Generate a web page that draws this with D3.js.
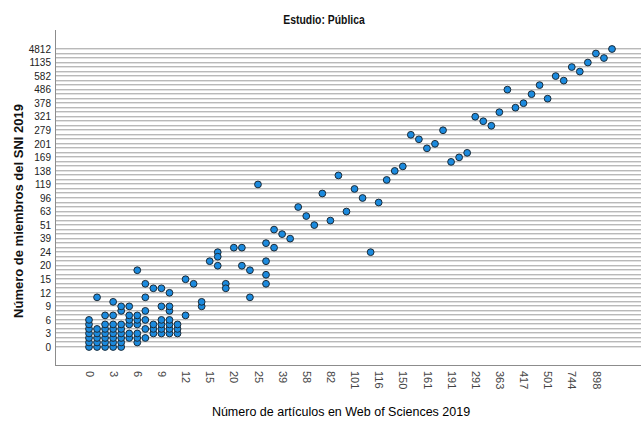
<!DOCTYPE html>
<html>
<head>
<meta charset="utf-8">
<script src="https://cdn.jsdelivr.net/npm/d3@7"></script>
<style>
  body { margin: 0; background: #fff; }
  svg { display: block; }
</style>
</head>
<body>
<svg id="chart" width="641" height="424"></svg>
<script>
"use strict";

// categorias (valores distintos) de cada eje, en orden
const articulosCats = [0, 1, 2, 3, 4, 5, 6, 7, 8, 9, 10, 11, 12, 13, 14, 15,
    17, 18, 20, 22, 23, 25, 28, 33, 39, 44, 50, 58, 66, 74, 82, 88, 95, 101,
    106, 111, 116, 127, 139, 150, 154, 158, 161, 171, 182, 191, 215, 250, 291,
    317, 340, 363, 381, 399, 417, 445, 470, 501, 567, 650, 744, 801, 850, 898,
    1010, 1262];
const miembrosCats = [0, 1, 2, 3, 4, 5, 6, 7, 8, 9, 10, 11, 12, 13, 14, 15,
    17, 19, 20, 21, 22, 24, 28, 33, 39, 44, 47, 51, 55, 59, 63, 75, 88, 96,
    103, 111, 119, 126, 132, 138, 148, 158, 169, 180, 190, 201, 226, 252, 279,
    293, 307, 321, 340, 359, 378, 414, 450, 486, 518, 550, 582, 766, 950, 1135,
    2360, 3585, 4812];

// etiquetas visibles
const articulosTicks = [0, 3, 6, 9, 12, 15, 20, 25, 39, 58, 82, 101, 116, 150,
    161, 191, 291, 363, 417, 501, 744, 898];
const miembrosTicks = [0, 3, 6, 9, 12, 15, 20, 24, 39, 51, 63, 96, 119, 138,
    169, 201, 279, 321, 378, 486, 582, 1135, 4812];

// [articulos, miembros]
const puntos = [
    [0, 0], [0, 1], [0, 2], [0, 3], [0, 4], [0, 5], [0, 6],
    [1, 0], [1, 1], [1, 2], [1, 3], [1, 4], [1, 11],
    [2, 0], [2, 1], [2, 2], [2, 3], [2, 4], [2, 5], [2, 7],
    [3, 0], [3, 1], [3, 2], [3, 3], [3, 4], [3, 5], [3, 7], [3, 10],
    [4, 0], [4, 1], [4, 2], [4, 3], [4, 4], [4, 5], [4, 8], [4, 9],
    [5, 2], [5, 3], [5, 5], [5, 6], [5, 7], [5, 9],
    [6, 1], [6, 2], [6, 3], [6, 5], [6, 6], [6, 7], [6, 19],
    [7, 2], [7, 4], [7, 6], [7, 8], [7, 11], [7, 14],
    [8, 3], [8, 4], [8, 5], [8, 13],
    [9, 3], [9, 4], [9, 5], [9, 6], [9, 9], [9, 13],
    [10, 3], [10, 4], [10, 5], [10, 6], [10, 8], [10, 9], [10, 12],
    [11, 3], [11, 4], [11, 5],
    [12, 7], [12, 15],
    [13, 14],
    [14, 9], [14, 10],
    [15, 21],
    [17, 24], [17, 22], [17, 20],
    [18, 14], [18, 13],
    [20, 28],
    [22, 28], [22, 20],
    [23, 19], [23, 11],
    [25, 119],
    [28, 33], [28, 21], [28, 17], [28, 14],
    [33, 47], [33, 28],
    [39, 44], [44, 39], [50, 75], [58, 59], [66, 51], [74, 103], [82, 55],
    [88, 132], [95, 63], [101, 111], [106, 96], [111, 24], [116, 88],
    [127, 126], [139, 138], [150, 148], [154, 252], [158, 226], [161, 190],
    [171, 201], [182, 279], [191, 158], [215, 169], [250, 180], [291, 321],
    [317, 307], [340, 293], [363, 340], [381, 486], [399, 359], [417, 378],
    [445, 450], [470, 518], [501, 414], [567, 582], [650, 550], [744, 950],
    [801, 766], [850, 1135], [898, 3585], [1010, 2360], [1262, 4812]
];

const plot = { left: 55, right: 641, top: 30, bottom: 365 };

const svg = d3.select('#chart');

const x = d3.scalePoint()
    .domain(articulosCats)
    .range([89, 612]);
const y = d3.scalePoint()
    .domain(miembrosCats)
    .range([347, 49]);

// lineas de referencia horizontales, una por categoria
const grid = svg.append('g').attr('class', 'grid');
grid.selectAll('line.g1')
    .data(miembrosCats)
    .enter()
    .append('line')
    .attr('class', 'g1')
    .attr('x1', plot.left + 1)
    .attr('x2', plot.right)
    .attr('y1', d => Math.round(y(d)) - 0.5)
    .attr('y2', d => Math.round(y(d)) - 0.5)
    .attr('stroke', '#b9b9b9');
grid.selectAll('line.g2')
    .data(miembrosCats)
    .enter()
    .append('line')
    .attr('class', 'g2')
    .attr('x1', plot.left + 1)
    .attr('x2', plot.right)
    .attr('y1', d => Math.round(y(d)) + 0.5)
    .attr('y2', d => Math.round(y(d)) + 0.5)
    .attr('stroke', '#e2e2e2');

// ejes
const yAxis = d3.axisLeft(y)
    .tickValues(miembrosTicks)
    .tickSize(0)
    .tickPadding(4);
const gy = svg.append('g')
    .attr('transform', 'translate(' + plot.left + ',0)')
    .call(yAxis);
gy.select('.domain').remove();
gy.selectAll('text')
    .attr('font-family', 'Liberation Sans, Arial, sans-serif')
    .attr('font-size', 10)
    .attr('fill', '#222');

const xAxis = d3.axisBottom(x)
    .tickValues(articulosTicks)
    .tickSize(0);
const gx = svg.append('g')
    .attr('transform', 'translate(0,' + plot.bottom + ')')
    .call(xAxis);
gx.select('.domain').remove();
gx.selectAll('text')
    .attr('font-family', 'Liberation Sans, Arial, sans-serif')
    .attr('font-size', 11)
    .attr('fill', '#444')
    .attr('text-anchor', 'start')
    .attr('dy', '0.35em')
    .attr('y', 0)
    .attr('transform', 'translate(0,6) rotate(90)');

svg.append('line')
    .attr('x1', plot.left + 0.5).attr('x2', plot.left + 0.5)
    .attr('y1', plot.top).attr('y2', plot.bottom)
    .attr('stroke', '#8c8c8c');
svg.append('line')
    .attr('x1', plot.left).attr('x2', plot.right)
    .attr('y1', plot.bottom + 0.5).attr('y2', plot.bottom + 0.5)
    .attr('stroke', '#8c8c8c');

// puntos
svg.append('g')
    .selectAll('circle')
    .data(puntos)
    .enter()
    .append('circle')
    .attr('cx', d => x(d[0]))
    .attr('cy', d => y(d[1]))
    .attr('r', 3.4)
    .attr('fill', '#1b8ade')
    .attr('stroke', '#1d2b36')
    .attr('stroke-width', 1);

// titulos (el de arriba va estrechado como en el original)
svg.append('text')
    .attr('transform', 'translate(324,24) scale(0.8,1)')
    .attr('text-anchor', 'middle')
    .attr('font-family', 'Liberation Sans, Arial, sans-serif')
    .attr('font-weight', 'bold')
    .attr('font-size', 13)
    .attr('fill', '#111')
    .text('Estudio: Pública');

svg.append('text')
    .attr('transform', 'translate(23,211) rotate(-90)')
    .attr('text-anchor', 'middle')
    .attr('font-family', 'Liberation Sans, Arial, sans-serif')
    .attr('font-weight', 'bold')
    .attr('font-size', 13)
    .attr('fill', '#111')
    .text('Número de miembros del SNI 2019');

svg.append('text')
    .attr('x', 341)
    .attr('y', 416)
    .attr('text-anchor', 'middle')
    .attr('font-family', 'Liberation Sans, Arial, sans-serif')
    .attr('font-size', 12.5)
    .attr('fill', '#000')
    .text('Número de artículos en Web of Sciences 2019');
</script>
</body>
</html>
